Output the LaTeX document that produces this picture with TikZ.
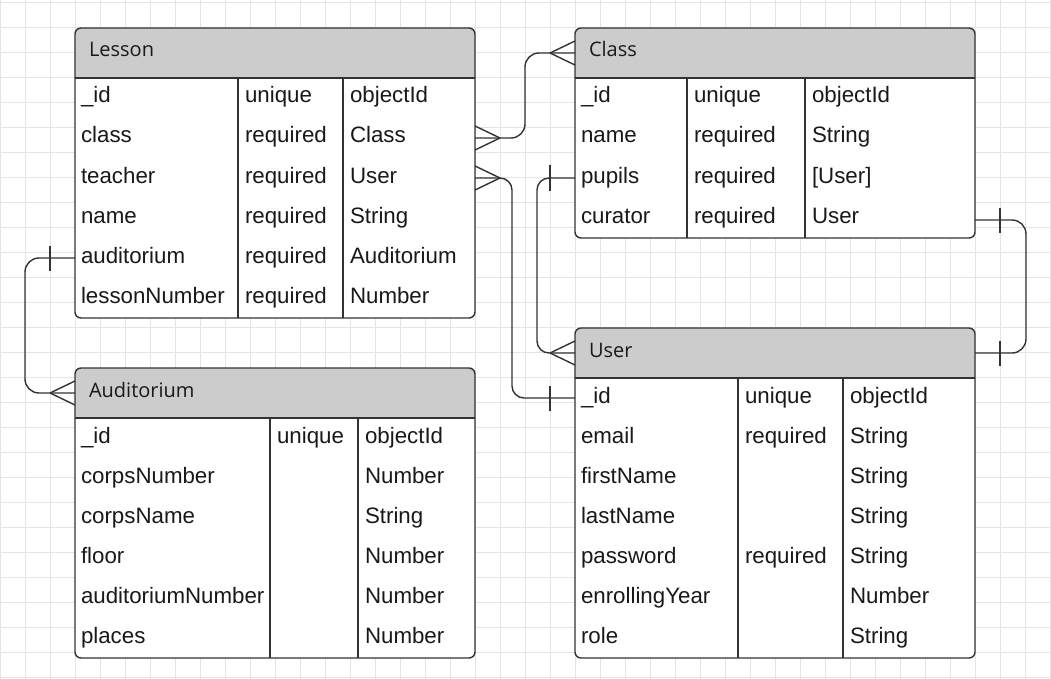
\documentclass[tikz,border=0pt]{standalone}
\usepackage{fontspec}
\setmainfont{Liberation Sans}
\newfontfamily\hdrfont{Open Sans}
\usetikzlibrary{calc}
\definecolor{gridc}{HTML}{E4E4E4}
\definecolor{hdr}{HTML}{CCCCCC}
\definecolor{ink}{HTML}{333333}
\tikzset{
  bodybox/.style={rectangle, inner sep=0pt, outer sep=0pt, fill=white, rounded corners=6pt},
  hdrbox/.style={rectangle, inner sep=0pt, outer sep=0pt, fill=hdr, rounded corners=6pt},
  rowbox/.style={rectangle, inner sep=0pt, outer sep=0pt},
  titletext/.style={inner sep=0pt, outer sep=0pt, font=\hdrfont\fontsize{20}{24}\selectfont, text=black!90},
  celltext/.style={inner sep=0pt, outer sep=0pt, font=\fontsize{22.3}{26}\selectfont, text=black!90},
  tline/.style={draw=ink, line width=1.4pt},
  conn/.style={draw=ink, line width=1.4pt},
  gridline/.style={draw=gridc, line width=0.9pt},
}
\newcommand\ertab[8]{%
  \pgfmathsetmacro\erht{50+40*#4}%
  \pgfmathsetmacro\erbot{#3+50+40*#4}%
  \node[bodybox, anchor=north west, minimum width=400pt, minimum height=\erht pt] (#1) at (#2,#3) {};
  \node[hdrbox, anchor=north west, minimum width=400pt, minimum height=50pt] (#1-hdr) at (#2,#3) {};
  \fill[hdr] (#2,#3+25) rectangle (#2+400,#3+50);
  \node[titletext, anchor=base west] (#1-title) at (#2+14,#3+29) {#5};
  \foreach \k/\f/\c/\t [count=\i] in {#8} {
    \pgfmathsetmacro\ery{#3+50+40*(\i-1)}
    \node[rowbox, anchor=north west, minimum width=400pt, minimum height=40pt] (#1-\k) at (#2,\ery) {};
    \node[celltext, anchor=base west] (#1-\k-f) at (#2+6,\ery+25) {\f};
    \node[celltext, anchor=base west] (#1-\k-c) at (#6+7,\ery+25) {\c};
    \node[celltext, anchor=base west] (#1-\k-t) at (#7+7,\ery+25) {\t};
  }
  \draw[tline] (#6,#3+50) -- (#6,\erbot) (#7,#3+50) -- (#7,\erbot) (#2,#3+50) -- (#2+400,#3+50);
  \draw[tline, rounded corners=6pt] (#1.north west) rectangle (#1.south east);
}
\newcommand\crowfoot[2]{%
  \draw[conn] ($(#1)+(#2*25,0)$) -- ($(#1)+(0,-12)$) ($(#1)+(#2*25,0)$) -- ($(#1)+(0,12)$);}
\newcommand\erbar[2]{%
  \draw[conn] ($(#1)+(#2*25,-12.5)$) -- ($(#1)+(#2*25,12.5)$);}
\begin{document}
\begin{tikzpicture}[x=1pt,y=-1pt]
\useasboundingbox (0,0) rectangle (1051,679);
\fill[white] (0,0) rectangle (1051,679);
\foreach \gx in {0,25,...,1050} \draw[gridline] (\gx,0) -- (\gx,679);
\foreach \gy in {2,27,...,677} \draw[gridline] (0,\gy) -- (1051,\gy);

\ertab{lesson}{75}{28}{6}{Lesson}{238}{343}{id/\_id/unique/objectId, class/class/required/Class, teacher/teacher/required/User, name/name/required/String, auditorium/auditorium/required/Auditorium, lessonNumber/lessonNumber/required/Number}
\ertab{class}{575}{28}{4}{Class}{687}{805}{id/\_id/unique/objectId, name/name/required/String, pupils/pupils/required/{[User]}, curator/curator/required/User}
\ertab{user}{575}{328}{7}{User}{738}{843}{id/\_id/unique/objectId, email/email/required/String, firstName/firstName//String, lastName/lastName//String, password/password/required/String, enrollingYear/enrollingYear//Number, role/role//String}
\ertab{auditorium}{75}{368}{6}{Auditorium}{270}{358}{id/\_id/unique/objectId, corpsNumber/corpsNumber//Number, corpsName/corpsName//String, floor/floor//Number, auditoriumNumber/auditoriumNumber//Number, places/places//Number}

% Lesson.class >--< Class
\coordinate (c1) at (525,53);
\draw[conn, rounded corners=14pt] (lesson-class.east) -| (c1) -- (class-hdr.west);
\crowfoot{lesson-class.east}{1}
\crowfoot{class-hdr.west}{-1}

% Lesson.teacher >--| User._id
\coordinate (c2) at (512,398);
\draw[conn, rounded corners=12pt] (lesson-teacher.east) -| (c2) -- (user-id.west);
\crowfoot{lesson-teacher.east}{1}
\erbar{user-id.west}{-1}

% Class.pupils |--< User
\coordinate (c3) at (537,353);
\draw[conn, rounded corners=12pt] (class-pupils.west) -| (c3) -- (user-hdr.west);
\erbar{class-pupils.west}{-1}
\crowfoot{user-hdr.west}{-1}

% Class.curator |--| User
\coordinate (c4s) at ([yshift=-2pt]class-curator.east);
\coordinate (c4) at (1026,353);
\draw[conn, rounded corners=14pt] (c4s) -| (c4) -- (user-hdr.east);
\erbar{c4s}{1}
\erbar{user-hdr.east}{1}

% Lesson.auditorium |--< Auditorium
\coordinate (c5) at (25,393);
\draw[conn, rounded corners=14pt] (lesson-auditorium.west) -| (c5) -- (auditorium-hdr.west);
\erbar{lesson-auditorium.west}{-1}
\crowfoot{auditorium-hdr.west}{-1}
\end{tikzpicture}
\end{document}
